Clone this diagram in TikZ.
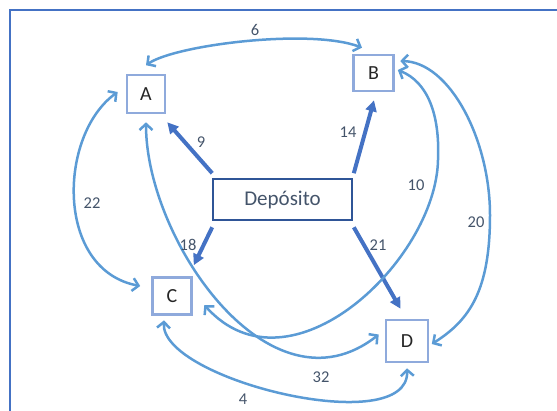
\documentclass[tikz,border=0pt]{standalone}
\usepackage{fontspec}
\setmainfont{Carlito}
\usetikzlibrary{arrows.meta}
\definecolor{framec}{HTML}{4472C4}
\definecolor{boxc}{HTML}{8FAADC}
\definecolor{depc}{HTML}{2F5597}
\definecolor{curvec}{HTML}{5B9BD5}
\definecolor{thickc}{HTML}{4472C4}
\definecolor{labc}{HTML}{44546A}
\begin{document}
\begin{tikzpicture}[x=1pt,y=-1pt,
  site/.style={draw=boxc, line width=2.6pt, fill=white, inner sep=0pt,
    font=\fontsize{20}{24}\selectfont, text=black!85},
  depot/.style={draw=depc, line width=2.6pt, minimum width=139pt, minimum height=41pt,
    inner sep=0pt, font=\fontsize{21}{25}\selectfont, text=labc},
  route/.style={draw=curvec, line width=2.5pt,
    {Straight Barb[length=6pt,width=13pt]}-{Straight Barb[length=6pt,width=13pt]}},
  feed/.style={draw=thickc, line width=4pt, -{Triangle[length=11pt,width=11pt]}},
  cost/.style={text=labc, font=\fontsize{16.5}{19}\selectfont, inner sep=0pt}]
\useasboundingbox (0,0) rectangle (557,410);

% outer frame (only left and top edges fall inside the page)
\draw[framec, line width=2pt] (10,414) -- (10,10) -- (562,10);

% nodes
\node[site, minimum width=38pt, minimum height=38pt] (A) at (146,94) {A};
\node[site, minimum width=40pt, minimum height=36pt] (B) at (373.5,73) {B};
\node[site, minimum width=39pt, minimum height=37pt] (C) at (172,296) {C};
\node[site, minimum width=42pt, minimum height=42pt] (D) at (407,341) {D};
\node[depot] (dep) at (282.5,199.5) {Depósito};

% depot feeders
\draw[feed] ([shift={(0.5,-4.5)}]dep.north west) -- ([shift={(1,8)}]A.south east);
\draw[feed] ([shift={(0.5,-4.5)}]dep.north east) -- ([shift={(0.5,8)}]B.south);
\draw[feed] ([shift={(0.5,6)}]dep.south west) -- ([shift={(1,-11)}]C.north east);
\draw[feed] ([shift={(0.5,6)}]dep.south east) -- ([shift={(-6.5,-10)}]D.north);

% routes between sites
\draw[route] ([shift={(0,-8.5)}]A.north) .. controls (175,45) and (310,28) .. ([shift={(-11.5,-6)}]B.north);
\draw[route] ([shift={(-8,-2)}]A.west) .. controls (58,135) and (55,270) .. ([shift={(-11,-10)}]C.west);
\draw[route] ([shift={(0,8)}]A.south) .. controls (146,240) and (270,420) .. ([shift={(-6,-6.5)}]D.west);
\draw[route] ([shift={(3,-3)}]B.east) .. controls (428,82) and (440,115) .. (438,160)
  .. controls (436,260) and (290,400) .. ([shift={(11.5,9)}]C.east);
\draw[route] ([shift={(5.5,-12)}]B.east) .. controls (450,62) and (490,140) .. (490,215)
  .. controls (490,290) and (470,320) .. ([shift={(2.5,3)}]D.east);
\draw[route] ([shift={(-8,4.5)}]C.south) .. controls (160,380) and (410,440) .. ([shift={(0,5)}]D.south);

% costs
\node[cost] (c6)  at (255,30)  {6};
\node[cost] (c9)  at (201,142) {9};
\node[cost] (c14) at (348,132) {14};
\node[cost] (c10) at (416,185) {10};
\node[cost] (c20) at (476,222) {20};
\node[cost] (c22) at (92,203)  {22};
\node[cost] (c18) at (188,245) {18};
\node[cost] (c21) at (378,245) {21};
\node[cost] (c32) at (321,377) {32};
\node[cost] (c4)  at (243,399) {4};
\end{tikzpicture}
\end{document}
